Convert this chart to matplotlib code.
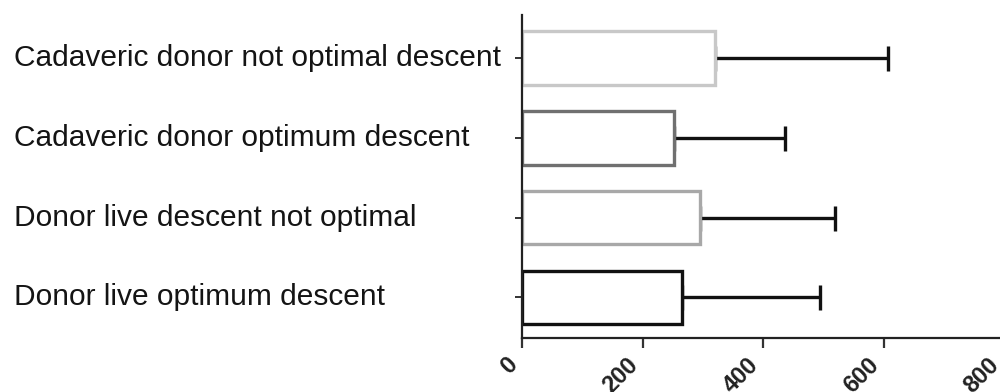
import matplotlib.pyplot as plt
import matplotlib.transforms as transforms

# groups, bottom to top as drawn
groups = ['Donor live optimum descent',
          'Donor live descent not optimal',
          'Cadaveric donor optimum descent',
          'Cadaveric donor not optimal descent']
means = [266, 295, 253, 320]
errors = [228, 224, 183, 288]
edge_colors = ['#111111', '#a8a8a8', '#707070', '#c8c8c8']
x_ticks = [0, 200, 400, 600, 800]

plt.rcParams['font.family'] = ['Liberation Sans', 'DejaVu Sans']

fig = plt.figure(figsize=(10, 3.92), dpi=100)
ax = fig.add_axes([0.522, 0.1378, 0.482, 0.8239])

ypos = list(range(len(groups)))
ax.barh(ypos, means, height=0.67, color='white', edgecolor=edge_colors,
        linewidth=2.4, zorder=2)
ax.errorbar(means, ypos, xerr=[[0] * len(errors), errors], fmt='none',
            ecolor='#111111', elinewidth=2.4, capsize=9, capthick=2.4, zorder=1)

ax.set_xlim(0, 800)
ax.set_ylim(-0.51, 3.54)
ax.set_xticks(x_ticks)
ax.set_xticklabels([str(t) for t in x_ticks], rotation=45, ha='right',
                   fontsize=17, fontweight='bold', color='#222222')
ax.set_yticks(ypos)
ax.set_yticklabels([])

for s in ['top', 'right']:
    ax.spines[s].set_visible(False)
for s in ['left', 'bottom']:
    ax.spines[s].set_linewidth(1.6)
    ax.spines[s].set_color('#222222')
ax.tick_params(axis='y', length=5, width=1.4, color='#333333')
ax.tick_params(axis='x', length=7, width=1.6, color='#333333', pad=4)

# category labels sit left-aligned near the figure edge
trans = transforms.blended_transform_factory(fig.transFigure, ax.transData)
for y, name in zip(ypos, groups):
    ax.text(0.014, y, name, transform=trans, ha='left', va='center',
            fontsize=21.5, color='#141414')

fig.savefig('out.png', dpi=100)
